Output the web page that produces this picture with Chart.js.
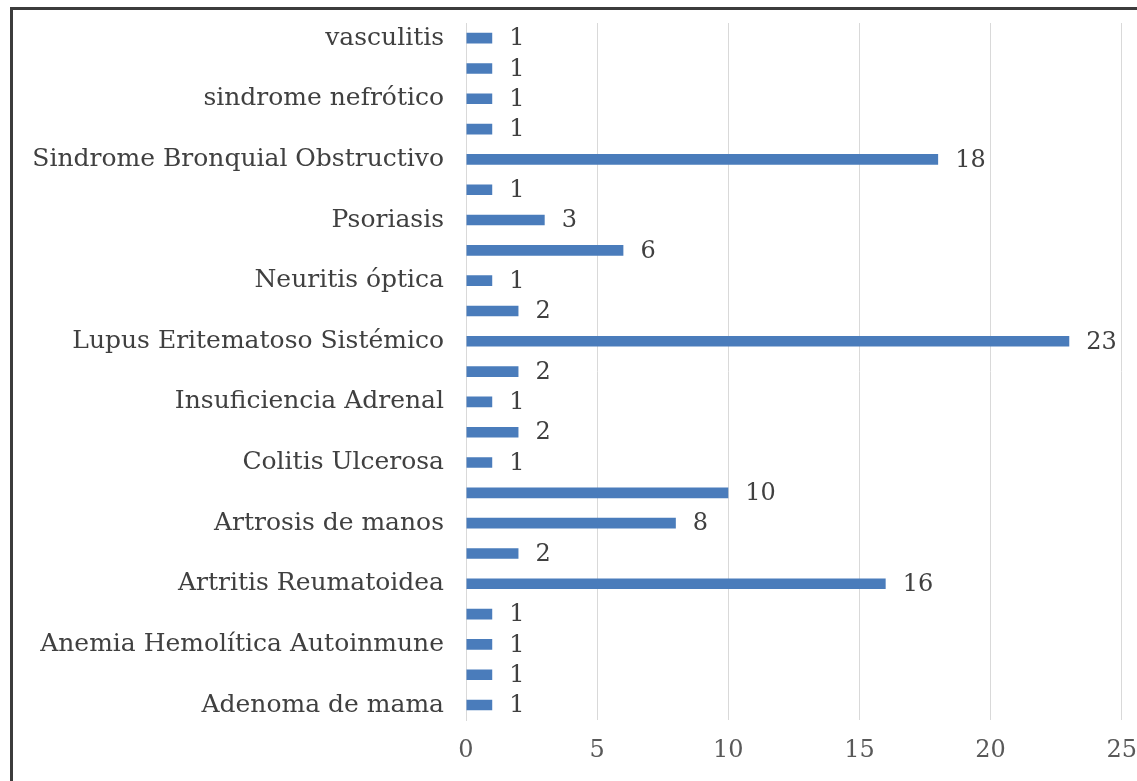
<!DOCTYPE html>
<html>
<head>
<meta charset="utf-8">
<script src="https://cdn.jsdelivr.net/npm/chart.js@4"></script>
<style>
  html, body { margin: 0; padding: 0; background: #fff; overflow: hidden; }
  #wrap { position: absolute; left: 0; top: -14px; width: 1153px; height: 795px; }
  #frame { position: absolute; left: 10px; top: 7px; width: 1150px; height: 800px;
           border: 3px solid #3c3c3c; box-sizing: border-box; pointer-events: none; }
</style>
</head>
<body>
<div id="wrap"><canvas id="chart" width="1153" height="795"></canvas></div>
<div id="frame"></div>
<script>
// categories top -> bottom (every other label is not shown in the picture)
const categories = [
    'vasculitis', '', 'sindrome nefrótico', '', 'Sindrome Bronquial Obstructivo', '',
    'Psoriasis', '', 'Neuritis óptica', '', 'Lupus Eritematoso Sistémico', '',
    'Insuficiencia Adrenal', '', 'Colitis Ulcerosa', '', 'Artrosis de manos', '',
    'Artritis Reumatoidea', '', 'Anemia Hemolítica Autoinmune', '', 'Adenoma de mama'
];
const counts = [1, 1, 1, 1, 18, 1, 3, 6, 1, 2, 23, 2, 1, 2, 1, 10, 8, 2, 16, 1, 1, 1, 1];
const xTicks = [0, 5, 10, 15, 20, 25];

const serif = "'DejaVu Serif', 'Liberation Serif', serif";

// draw the value next to each bar
const valueLabels = {
    id: 'valueLabels',
    afterDatasetsDraw(chart) {
        const ctx = chart.ctx;
        const meta = chart.getDatasetMeta(0);
        ctx.save();
        ctx.font = '24px ' + serif;
        ctx.fillStyle = '#404040';
        ctx.textAlign = 'left';
        ctx.textBaseline = 'middle';
        meta.data.forEach((bar, i) => {
            ctx.fillText(counts[i], bar.x + 17, bar.y + 1);
        });
        ctx.restore();
    }
};

new Chart(document.getElementById('chart'), {
    type: 'bar',
    data: {
        labels: categories,
        datasets: [{
            data: counts,
            backgroundColor: '#4a7cbb',
            categoryPercentage: 0.5,
            barPercentage: 0.7
        }]
    },
    options: {
        indexAxis: 'y',
        responsive: false,
        animation: false,
        layout: { padding: { top: 6, right: -14, bottom: 0, left: 0 } },
        plugins: { legend: { display: false }, tooltip: { enabled: false } },
        scales: {
            x: {
                min: 0,
                max: 25,
                afterBuildTicks: axis => { axis.ticks = xTicks.map(v => ({ value: v })); },
                grid: { color: '#d9d9d9', drawTicks: false },
                border: { display: false },
                ticks: { font: { family: serif, size: 24 }, color: '#595959', padding: 16 }
            },
            y: {
                afterFit: axis => { axis.width = 466; },
                grid: { display: false, drawTicks: false },
                border: { color: '#d9d9d9' },
                ticks: { autoSkip: false, font: { family: serif, size: 25 }, color: '#404040', padding: 22 }
            }
        }
    },
    plugins: [valueLabels]
});
</script>
</body>
</html>
